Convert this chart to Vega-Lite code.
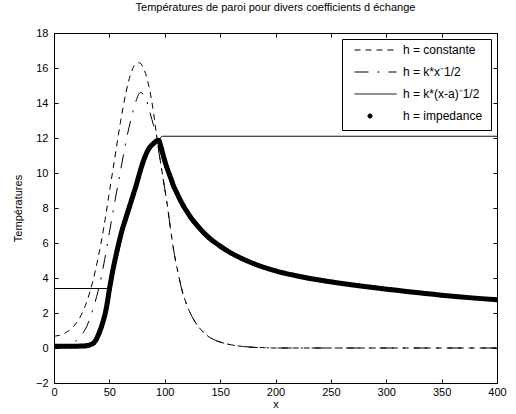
{
  "$schema": "https://vega.github.io/schema/vega-lite/v6.json",
  "width": 443,
  "height": 350,
  "autosize": "none",
  "padding": {"left": 54, "top": 33, "right": 19, "bottom": 31},
  "background": "white",
  "title": {"text": "Températures de paroi pour divers coefficients d échange", "font": "Liberation Sans", "fontSize": 11, "fontWeight": "normal", "color": "black", "offset": 14},
  "config": {
    "view": {"stroke": "black", "strokeWidth": 1},
    "axis": {"domainColor": "black", "tickColor": "black", "labelColor": "black", "titleColor": "black", "labelFont": "Liberation Sans", "titleFont": "Liberation Sans", "labelFontSize": 11, "titleFontSize": 11, "titleFontWeight": "normal", "grid": false, "tickSize": -4, "labelFlush": false, "labelOverlap": false}
  },
  "data": {"values": [
    {"serie":"h = constante","x":0,"y":0.67},{"serie":"h = constante","x":10,"y":0.85},{"serie":"h = constante","x":15,"y":1.07},{"serie":"h = constante","x":20,"y":1.41},{"serie":"h = constante","x":25,"y":1.94},{"serie":"h = constante","x":30,"y":2.72},{"serie":"h = constante","x":35,"y":3.8},{"serie":"h = constante","x":40,"y":5.2},{"serie":"h = constante","x":45,"y":6.9},{"serie":"h = constante","x":50,"y":8.9},{"serie":"h = constante","x":55,"y":10.9},{"serie":"h = constante","x":60,"y":12.9},{"serie":"h = constante","x":65,"y":14.6},{"serie":"h = constante","x":70,"y":15.8},{"serie":"h = constante","x":74,"y":16.25},{"serie":"h = constante","x":77,"y":16.3},{"serie":"h = constante","x":80,"y":16.1},{"serie":"h = constante","x":84,"y":15.4},{"serie":"h = constante","x":88,"y":14.2},{"serie":"h = constante","x":90,"y":13.4},{"serie":"h = constante","x":92.5,"y":12.2},{"serie":"h = constante","x":95,"y":11.1},{"serie":"h = constante","x":98,"y":9.9},{"serie":"h = constante","x":100,"y":9.1},{"serie":"h = constante","x":102,"y":8.3},{"serie":"h = constante","x":105,"y":6.9},{"serie":"h = constante","x":108,"y":5.6},{"serie":"h = constante","x":112,"y":4.3},{"serie":"h = constante","x":116,"y":3.2},{"serie":"h = constante","x":120,"y":2.45},{"serie":"h = constante","x":125,"y":1.75},{"serie":"h = constante","x":130,"y":1.25},{"serie":"h = constante","x":135,"y":0.9},{"serie":"h = constante","x":140,"y":0.63},{"serie":"h = constante","x":145,"y":0.46},{"serie":"h = constante","x":150,"y":0.34},{"serie":"h = constante","x":160,"y":0.18},{"serie":"h = constante","x":170,"y":0.09},{"serie":"h = constante","x":180,"y":0.04},{"serie":"h = constante","x":190,"y":0.02},{"serie":"h = constante","x":200,"y":0},{"serie":"h = constante","x":300,"y":0},{"serie":"h = constante","x":400,"y":0},
    {"serie":"h = k*x⁻1/2","x":0,"y":0},{"serie":"h = k*x⁻1/2","x":10,"y":0.05},{"serie":"h = k*x⁻1/2","x":15,"y":0.2},{"serie":"h = k*x⁻1/2","x":20,"y":0.42},{"serie":"h = k*x⁻1/2","x":25,"y":0.75},{"serie":"h = k*x⁻1/2","x":30,"y":1.3},{"serie":"h = k*x⁻1/2","x":35,"y":2.2},{"serie":"h = k*x⁻1/2","x":40,"y":3.3},{"serie":"h = k*x⁻1/2","x":45,"y":4.8},{"serie":"h = k*x⁻1/2","x":50,"y":6.6},{"serie":"h = k*x⁻1/2","x":55,"y":8.4},{"serie":"h = k*x⁻1/2","x":60,"y":10.1},{"serie":"h = k*x⁻1/2","x":65,"y":11.8},{"serie":"h = k*x⁻1/2","x":70,"y":13.2},{"serie":"h = k*x⁻1/2","x":74,"y":14.1},{"serie":"h = k*x⁻1/2","x":78,"y":14.6},{"serie":"h = k*x⁻1/2","x":82,"y":14.4},{"serie":"h = k*x⁻1/2","x":86,"y":13.6},{"serie":"h = k*x⁻1/2","x":90,"y":12.7},{"serie":"h = k*x⁻1/2","x":92.5,"y":12.2},{"serie":"h = k*x⁻1/2","x":95,"y":11.1},{"serie":"h = k*x⁻1/2","x":98,"y":9.9},{"serie":"h = k*x⁻1/2","x":100,"y":9.1},{"serie":"h = k*x⁻1/2","x":102,"y":8.3},{"serie":"h = k*x⁻1/2","x":105,"y":6.9},{"serie":"h = k*x⁻1/2","x":108,"y":5.6},{"serie":"h = k*x⁻1/2","x":112,"y":4.3},{"serie":"h = k*x⁻1/2","x":116,"y":3.2},{"serie":"h = k*x⁻1/2","x":120,"y":2.45},{"serie":"h = k*x⁻1/2","x":125,"y":1.75},{"serie":"h = k*x⁻1/2","x":130,"y":1.25},{"serie":"h = k*x⁻1/2","x":135,"y":0.9},{"serie":"h = k*x⁻1/2","x":140,"y":0.63},{"serie":"h = k*x⁻1/2","x":145,"y":0.46},{"serie":"h = k*x⁻1/2","x":150,"y":0.34},{"serie":"h = k*x⁻1/2","x":160,"y":0.18},{"serie":"h = k*x⁻1/2","x":170,"y":0.09},{"serie":"h = k*x⁻1/2","x":180,"y":0.04},{"serie":"h = k*x⁻1/2","x":190,"y":0.02},{"serie":"h = k*x⁻1/2","x":200,"y":0},{"serie":"h = k*x⁻1/2","x":300,"y":0},{"serie":"h = k*x⁻1/2","x":400,"y":0},
    {"serie":"h = k*(x-a)⁻1/2","x":0,"y":3.4},{"serie":"h = k*(x-a)⁻1/2","x":50,"y":3.4},{"serie":"h = k*(x-a)⁻1/2","x":52,"y":4.05},{"serie":"h = k*(x-a)⁻1/2","x":55,"y":5.0},{"serie":"h = k*(x-a)⁻1/2","x":60,"y":6.38},{"serie":"h = k*(x-a)⁻1/2","x":65,"y":7.45},{"serie":"h = k*(x-a)⁻1/2","x":70,"y":8.45},{"serie":"h = k*(x-a)⁻1/2","x":75,"y":9.5},{"serie":"h = k*(x-a)⁻1/2","x":80,"y":10.55},{"serie":"h = k*(x-a)⁻1/2","x":85,"y":11.3},{"serie":"h = k*(x-a)⁻1/2","x":90,"y":11.7},{"serie":"h = k*(x-a)⁻1/2","x":94,"y":11.87},{"serie":"h = k*(x-a)⁻1/2","x":98,"y":12.1},{"serie":"h = k*(x-a)⁻1/2","x":400,"y":12.1},
    {"serie":"h = impedance","x":0,"y":0.1},{"serie":"h = impedance","x":5,"y":0.1},{"serie":"h = impedance","x":10,"y":0.1},{"serie":"h = impedance","x":15,"y":0.1},{"serie":"h = impedance","x":20,"y":0.1},{"serie":"h = impedance","x":25,"y":0.11},{"serie":"h = impedance","x":28,"y":0.12},{"serie":"h = impedance","x":30,"y":0.14},{"serie":"h = impedance","x":32,"y":0.17},{"serie":"h = impedance","x":34,"y":0.22},{"serie":"h = impedance","x":36,"y":0.3},{"serie":"h = impedance","x":37,"y":0.38},{"serie":"h = impedance","x":38,"y":0.47},{"serie":"h = impedance","x":39,"y":0.6},{"serie":"h = impedance","x":40,"y":0.74},{"serie":"h = impedance","x":41,"y":0.9},{"serie":"h = impedance","x":42,"y":1.06},{"serie":"h = impedance","x":43,"y":1.25},{"serie":"h = impedance","x":44,"y":1.45},{"serie":"h = impedance","x":45,"y":1.67},{"serie":"h = impedance","x":46,"y":1.9},{"serie":"h = impedance","x":47,"y":2.2},{"serie":"h = impedance","x":48,"y":2.55},{"serie":"h = impedance","x":49,"y":2.95},{"serie":"h = impedance","x":50,"y":3.35},{"serie":"h = impedance","x":51,"y":3.7},{"serie":"h = impedance","x":52,"y":4.05},{"serie":"h = impedance","x":53,"y":4.4},{"serie":"h = impedance","x":54,"y":4.7},{"serie":"h = impedance","x":55,"y":5.0},{"serie":"h = impedance","x":56,"y":5.3},{"serie":"h = impedance","x":57,"y":5.58},{"serie":"h = impedance","x":58,"y":5.85},{"serie":"h = impedance","x":59,"y":6.12},{"serie":"h = impedance","x":60,"y":6.38},{"serie":"h = impedance","x":62,"y":6.85},{"serie":"h = impedance","x":64,"y":7.25},{"serie":"h = impedance","x":66,"y":7.65},{"serie":"h = impedance","x":68,"y":8.05},{"serie":"h = impedance","x":70,"y":8.45},{"serie":"h = impedance","x":72,"y":8.85},{"serie":"h = impedance","x":74,"y":9.25},{"serie":"h = impedance","x":76,"y":9.7},{"serie":"h = impedance","x":78,"y":10.15},{"serie":"h = impedance","x":80,"y":10.55},{"serie":"h = impedance","x":82,"y":10.9},{"serie":"h = impedance","x":84,"y":11.2},{"serie":"h = impedance","x":86,"y":11.42},{"serie":"h = impedance","x":88,"y":11.58},{"serie":"h = impedance","x":90,"y":11.7},{"serie":"h = impedance","x":92,"y":11.8},{"serie":"h = impedance","x":94,"y":11.87},{"serie":"h = impedance","x":95,"y":11.85},{"serie":"h = impedance","x":96,"y":11.6},{"serie":"h = impedance","x":97,"y":11.4},{"serie":"h = impedance","x":98,"y":11.15},{"serie":"h = impedance","x":100,"y":10.7},{"serie":"h = impedance","x":102,"y":10.3},{"serie":"h = impedance","x":104,"y":9.95},{"serie":"h = impedance","x":106,"y":9.6},{"serie":"h = impedance","x":108,"y":9.25},{"serie":"h = impedance","x":111,"y":8.85},{"serie":"h = impedance","x":114,"y":8.45},{"serie":"h = impedance","x":117,"y":8.1},{"serie":"h = impedance","x":120,"y":7.8},{"serie":"h = impedance","x":123,"y":7.5},{"serie":"h = impedance","x":126,"y":7.25},{"serie":"h = impedance","x":130,"y":6.95},{"serie":"h = impedance","x":135,"y":6.6},{"serie":"h = impedance","x":140,"y":6.3},{"serie":"h = impedance","x":145,"y":6.05},{"serie":"h = impedance","x":150,"y":5.82},{"serie":"h = impedance","x":160,"y":5.42},{"serie":"h = impedance","x":170,"y":5.1},{"serie":"h = impedance","x":180,"y":4.83},{"serie":"h = impedance","x":190,"y":4.6},{"serie":"h = impedance","x":200,"y":4.41},{"serie":"h = impedance","x":215,"y":4.18},{"serie":"h = impedance","x":230,"y":3.99},{"serie":"h = impedance","x":245,"y":3.83},{"serie":"h = impedance","x":260,"y":3.69},{"serie":"h = impedance","x":275,"y":3.56},{"serie":"h = impedance","x":290,"y":3.44},{"serie":"h = impedance","x":305,"y":3.33},{"serie":"h = impedance","x":320,"y":3.22},{"serie":"h = impedance","x":335,"y":3.12},{"serie":"h = impedance","x":350,"y":3.02},{"serie":"h = impedance","x":365,"y":2.93},{"serie":"h = impedance","x":380,"y":2.85},{"serie":"h = impedance","x":400,"y":2.75}
  ]},
  "resolve": {"axis": {"x": "independent", "y": "independent"}},
  "layer": [
    {
      "transform": [{"filter": "datum.serie !== 'h = impedance'"}],
      "mark": {"type": "line", "color": "black", "strokeWidth": 1, "interpolate": "monotone", "clip": true},
      "encoding": {
        "x": {"field": "x", "type": "quantitative", "scale": {"domain": [0, 400], "nice": false, "zero": false},
              "axis": {"orient": "bottom", "values": [0,50,100,150,200,250,300,350,400], "title": "x", "labelPadding": 7, "titlePadding": 1}},
        "y": {"field": "y", "type": "quantitative", "scale": {"domain": [-2, 18], "nice": false, "zero": false},
              "axis": {"orient": "left", "values": [-2,0,2,4,6,8,10,12,14,16,18], "title": "Températures", "labelPadding": 10, "titlePadding": 12}},
        "strokeDash": {"field": "serie", "type": "nominal",
          "scale": {"domain": ["h = constante", "h = k*x⁻1/2", "h = k*(x-a)⁻1/2", "h = impedance"], "range": [[6,5],[14,9,2,9],[1,0],[1,0]]},
          "legend": {
            "title": null, "orient": "top-right", "offset": 6,
            "strokeColor": "black", "fillColor": "white", "padding": 8,
            "symbolType": "stroke", "symbolSize": 1764, "symbolStrokeWidth": 1, "symbolStrokeColor": "black", "symbolOffset": 4,
            "labelFont": "Liberation Sans", "labelFontSize": 12, "labelColor": "black", "labelOffset": 6,
            "clipHeight": 6, "rowPadding": 10,
            "encode": {"symbols": {"update": {
              "shape": {"signal": "datum.value === 'h = impedance' ? 'M -0.36,0 A 0.1,0.1 0 1,0 -0.16,0 A 0.1,0.1 0 1,0 -0.36,0 Z' : 'stroke'"},
              "fill": {"signal": "datum.value === 'h = impedance' ? 'black' : 'transparent'"},
              "stroke": {"value": "black"},
              "strokeWidth": {"value": 1},
              "strokeDash": {"scale": "strokeDash", "field": "value"},
              "opacity": {"value": 1}
            }}}
          }}
      }
    },
    {
      "transform": [{"filter": "datum.serie === 'h = impedance'"}],
      "mark": {"type": "line", "color": "black", "strokeWidth": 5, "interpolate": "monotone", "strokeCap": "round", "clip": true},
      "encoding": {
        "x": {"field": "x", "type": "quantitative", "scale": {"domain": [0, 400], "nice": false, "zero": false},
              "axis": {"orient": "top", "values": [0,50,100,150,200,250,300,350,400], "labels": false, "title": null}},
        "y": {"field": "y", "type": "quantitative", "scale": {"domain": [-2, 18], "nice": false, "zero": false},
              "axis": {"orient": "right", "values": [-2,0,2,4,6,8,10,12,14,16,18], "labels": false, "title": null}}
      }
    },
    {
      "transform": [{"filter": "datum.serie === 'h = impedance'"}],
      "mark": {"type": "point", "filled": true, "color": "black", "size": 20, "opacity": 1, "clip": true},
      "encoding": {
        "x": {"field": "x", "type": "quantitative", "scale": {"domain": [0, 400], "nice": false, "zero": false}, "axis": null},
        "y": {"field": "y", "type": "quantitative", "scale": {"domain": [-2, 18], "nice": false, "zero": false}, "axis": null}
      }
    }
  ]
}
